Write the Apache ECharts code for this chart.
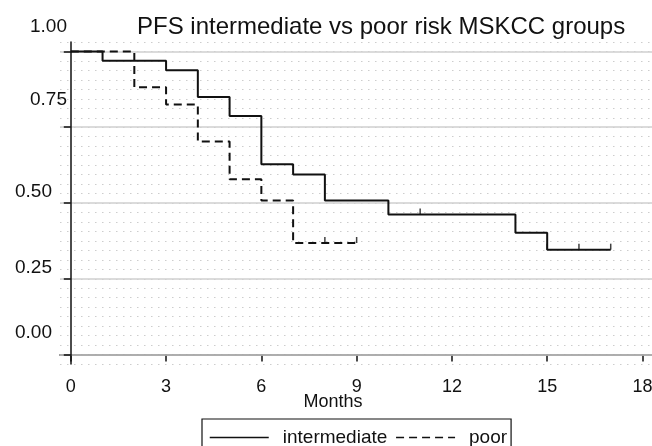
<!DOCTYPE html>
<html><head><meta charset="utf-8">
<script src="https://cdn.jsdelivr.net/npm/echarts@6/dist/echarts.min.js"></script>
<style>html,body{margin:0;padding:0;background:#fff}#c{width:652px;height:446px}</style>
</head><body><div id="c"></div>
<script>
// Data
const seriesNames = ['intermediate', 'poor'];
const intermediateTimes = [0, 1, 3, 4, 5, 6, 7, 8, 10, 14, 15, 17];
const intermediateSurv = [1.0, 0.969, 0.938, 0.850, 0.787, 0.628, 0.594, 0.508, 0.462, 0.402, 0.346, 0.346];
const intermediateCensorTimes = [11, 15, 16, 17];
const intermediateCensorSurv = [0.462, 0.346, 0.346, 0.346];
const poorTimes = [0, 2, 3, 4, 5, 6, 7, 9];
const poorSurv = [1.0, 0.882, 0.825, 0.703, 0.578, 0.508, 0.368, 0.368];
const poorCensorTimes = [8, 9];
const poorCensorSurv = [0.368, 0.368];
const xTickValues = [0, 3, 6, 9, 12, 15, 18];
const yTickValues = [0, 0.25, 0.5, 0.75, 1.0];
const yTickLabels = ['0.00', '0.25', '0.50', '0.75', '1.00'];
const titleText = 'PFS intermediate vs poor risk MSKCC groups';
const xAxisName = 'Months';

const pairs = (xs, ys) => xs.map((x, i) => [x, ys[i]]);
const FONT = 'Liberation Sans, Arial, sans-serif';
const yMin = -1 / 32, yMax = 33 / 32;

// per-label offsets (the reference places labels above their ticks)
const labelShiftUp = [22, 11, 11, 27, 25];
const labelShiftRight = [0, 0, 0, 15, 15];
const rich = {};
yTickValues.forEach((v, i) => {
  rich['s' + i] = {
    fontSize: 19, fontFamily: FONT, color: '#111',
    padding: [0, 15 - labelShiftRight[i], labelShiftUp[i] * 2, 0]
  };
});

const chart = echarts.init(document.getElementById('c'), null, {renderer: 'canvas'});
chart.setOption({
  animation: false,
  backgroundColor: '#fff',
  title: {
    text: titleText, left: 132, top: 10,
    textStyle: {fontSize: 24, fontWeight: 'normal', color: '#111', fontFamily: FONT}
  },
  grid: {left: 60, right: 0, top: 42, bottom: 82, outerBoundsMode: 'none', containLabel: false},
  legend: {
    data: seriesNames, left: 202, top: 419, orient: 'horizontal',
    borderColor: '#111', borderWidth: 1.2, padding: [9, 4, 12, 7],
    itemWidth: 59, itemHeight: 14, itemGap: 8,
    itemStyle: {color: 'transparent', borderColor: 'transparent', borderWidth: 0, opacity: 0},
    lineStyle: {width: 1.5},
    textStyle: {fontSize: 19, color: '#111', fontFamily: FONT, padding: [0, 0, 0, 9]}
  },
  xAxis: {
    type: 'value', min: -0.34, max: 18.3,
    name: xAxisName, nameLocation: 'middle', nameGap: 29, nameMoveOverlap: false,
    nameTextStyle: {fontSize: 18, color: '#111', fontFamily: FONT, padding: [0, 46, 0, 0]},
    axisLine: {show: true, lineStyle: {color: '#111', width: 1.5}},
    axisTick: {show: true, customValues: xTickValues, length: 7, lineStyle: {color: '#111', width: 1.5}},
    axisLabel: {customValues: xTickValues, fontSize: 18, color: '#111', fontFamily: FONT, margin: 14,
      formatter: v => String(v)},
    splitLine: {show: false}
  },
  yAxis: [{
    type: 'value', min: yMin, max: yMax,
    axisLine: {show: true, lineStyle: {color: '#111', width: 1.5}},
    axisTick: {show: true, customValues: yTickValues, length: 7, lineStyle: {color: '#111', width: 1.5}},
    axisLabel: {
      customValues: yTickValues, margin: -7,
      formatter: v => {
        const i = yTickValues.findIndex(t => Math.abs(t - v) < 1e-6);
        return '{s' + i + '|' + yTickLabels[i] + '}';
      },
      rich: rich
    },
    splitLine: {show: true, lineStyle: {color: '#cfcfcf', width: 1.5}},
    z: 3
  }, {
    type: 'value', min: yMin, max: yMax, interval: 1 / 32, position: 'left',
    axisLine: {show: false}, axisTick: {show: false}, axisLabel: {show: false},
    splitLine: {show: true, lineStyle: {color: '#cdcdcd', width: 1, type: [1.5, 5.5]}},
    z: 0
  }],
  series: [{
    name: 'intermediate', type: 'line', step: 'end', yAxisIndex: 0,
    data: pairs(intermediateTimes, intermediateSurv),
    symbol: 'none', lineStyle: {color: '#111', width: 2, type: 'solid'},
    itemStyle: {color: '#111'}, z: 4
  }, {
    name: 'poor', type: 'line', step: 'end', yAxisIndex: 0,
    data: pairs(poorTimes, poorSurv),
    symbol: 'none', lineStyle: {color: '#111', width: 2, type: [8, 5]},
    itemStyle: {color: '#111'}, z: 3
  }, {
    name: 'intermediate censored', type: 'scatter', yAxisIndex: 0,
    data: pairs(intermediateCensorTimes, intermediateCensorSurv),
    symbol: 'rect', symbolSize: [1.5, 6], symbolOffset: [0, -3],
    itemStyle: {color: '#111'}, z: 5
  }, {
    name: 'poor censored', type: 'scatter', yAxisIndex: 0,
    data: pairs(poorCensorTimes, poorCensorSurv),
    symbol: 'rect', symbolSize: [1.5, 6], symbolOffset: [0, -3],
    itemStyle: {color: '#111'}, z: 5
  }]
});
</script></body></html>
